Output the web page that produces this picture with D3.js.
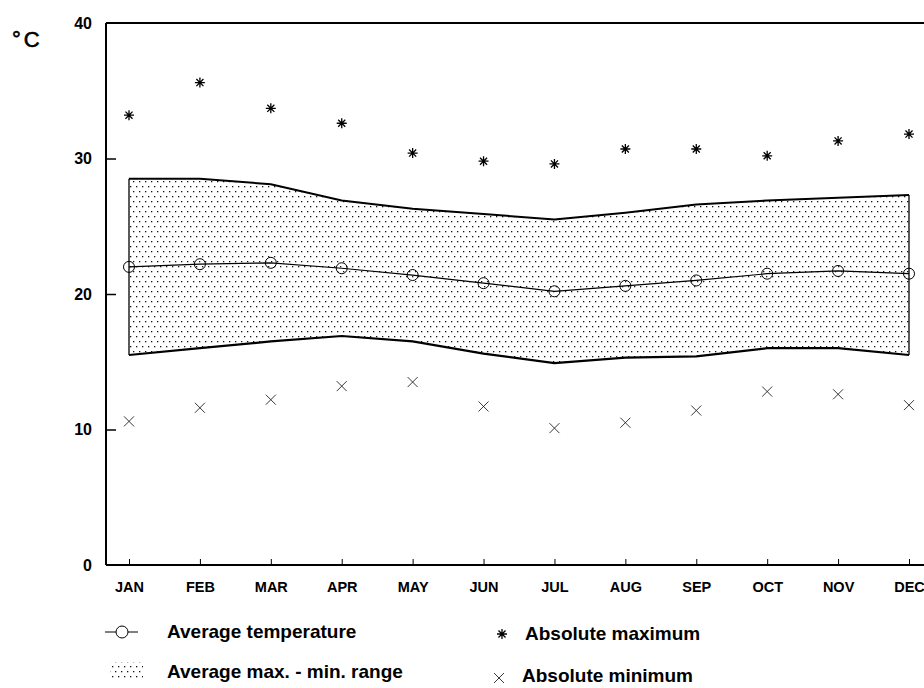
<!DOCTYPE html>
<html>
<head>
<meta charset="utf-8">
<script src="https://cdn.jsdelivr.net/npm/d3@7"></script>
<style>
  body { margin: 0; background: #fff; }
  svg { display: block; font-family: "Liberation Sans", Arial, sans-serif; }
</style>
</head>
<body>
<svg id="chart" width="924" height="688"></svg>
<script>
// monthly values (deg C)
var months = ["JAN", "FEB", "MAR", "APR", "MAY", "JUN", "JUL", "AUG", "SEP", "OCT", "NOV", "DEC"];
var avgTemp = [22.0, 22.2, 22.3, 21.9, 21.4, 20.8, 20.2, 20.6, 21.0, 21.5, 21.7, 21.5];
var avgMax = [28.5, 28.5, 28.1, 26.9, 26.3, 25.9, 25.5, 26.0, 26.6, 26.9, 27.1, 27.3];
var avgMin = [15.5, 16.0, 16.5, 16.9, 16.5, 15.6, 14.9, 15.3, 15.4, 16.0, 16.0, 15.5];
var absMax = [33.2, 35.6, 33.7, 32.6, 30.4, 29.8, 29.6, 30.7, 30.7, 30.2, 31.3, 31.8];
var absMin = [10.6, 11.6, 12.2, 13.2, 13.5, 11.7, 10.1, 10.5, 11.4, 12.8, 12.6, 11.8];
var yTicks = [0, 10, 20, 30, 40];

var svg = d3.select("#chart");

var plotLeft = 106, plotTop = 23, plotBottom = 565, plotRight = 924;

var x = d3.scalePoint().domain(months).range([129, 909]);
var y = d3.scaleLinear().domain([0, 40]).range([plotBottom, plotTop]);

// dotted fill
var defs = svg.append("defs");
var pat = defs.append("pattern")
    .attr("id", "dots")
    .attr("patternUnits", "userSpaceOnUse")
    .attr("width", 6).attr("height", 10);
pat.append("rect").attr("x", 1).attr("y", 1).attr("width", 1.3).attr("height", 1.3).attr("fill", "#111");
pat.append("rect").attr("x", 4).attr("y", 6).attr("width", 1.3).attr("height", 1.3).attr("fill", "#111");

var rows = months.map(function(m, i) {
    return { m: m, t: avgTemp[i], hi: avgMax[i], lo: avgMin[i], amax: absMax[i], amin: absMin[i] };
});

// band
var area = d3.area()
    .x(function(d) { return x(d.m); })
    .y0(function(d) { return y(d.lo); })
    .y1(function(d) { return y(d.hi); });

svg.append("path")
    .datum(rows)
    .attr("d", area)
    .attr("fill", "url(#dots)")
    .attr("stroke", "none");

var hiLine = d3.line().x(function(d) { return x(d.m); }).y(function(d) { return y(d.hi); });
var loLine = d3.line().x(function(d) { return x(d.m); }).y(function(d) { return y(d.lo); });

svg.append("path").datum(rows).attr("d", hiLine)
    .attr("fill", "none").attr("stroke", "#000").attr("stroke-width", 2);
svg.append("path").datum(rows).attr("d", loLine)
    .attr("fill", "none").attr("stroke", "#000").attr("stroke-width", 2.2);

// band end edges
[rows[0], rows[rows.length - 1]].forEach(function(d) {
    svg.append("line")
        .attr("x1", x(d.m)).attr("x2", x(d.m))
        .attr("y1", y(d.hi)).attr("y2", y(d.lo))
        .attr("stroke", "#000").attr("stroke-width", 1.3);
});

// average temperature
var tLine = d3.line().x(function(d) { return x(d.m); }).y(function(d) { return y(d.t); });
svg.append("path").datum(rows).attr("d", tLine)
    .attr("fill", "none").attr("stroke", "#000").attr("stroke-width", 1.2);

svg.selectAll("circle.avg")
    .data(rows)
    .enter()
    .append("circle")
    .attr("class", "avg")
    .attr("cx", function(d) { return x(d.m); })
    .attr("cy", function(d) { return y(d.t); })
    .attr("r", 5.5)
    .attr("fill", "none")
    .attr("stroke", "#000")
    .attr("stroke-width", 1);

// marker paths
function starPath(r) {
    var p = "";
    for (var k = 0; k < 4; k++) {
        var a = k * Math.PI / 4;
        var dx = r * Math.cos(a), dy = r * Math.sin(a);
        p += "M" + (-dx) + "," + (-dy) + "L" + dx + "," + dy;
    }
    return p;
}
function crossPath(r) {
    return "M" + (-r) + "," + (-r) + "L" + r + "," + r + "M" + (-r) + "," + r + "L" + r + "," + (-r);
}

svg.selectAll("path.amax")
    .data(rows)
    .enter()
    .append("path")
    .attr("class", "amax")
    .attr("transform", function(d) { return "translate(" + x(d.m) + "," + y(d.amax) + ")"; })
    .attr("d", starPath(5))
    .attr("stroke", "#000")
    .attr("stroke-width", 1.3);

svg.selectAll("path.amin")
    .data(rows)
    .enter()
    .append("path")
    .attr("class", "amin")
    .attr("transform", function(d) { return "translate(" + x(d.m) + "," + y(d.amin) + ")"; })
    .attr("d", crossPath(5))
    .attr("stroke", "#222")
    .attr("stroke-width", 0.9);

// frame: left axis, top border
svg.append("line").attr("x1", plotLeft).attr("x2", plotLeft).attr("y1", plotTop).attr("y2", plotBottom)
    .attr("stroke", "#000").attr("stroke-width", 2);
svg.append("line").attr("x1", plotLeft).attr("x2", plotRight).attr("y1", plotTop).attr("y2", plotTop)
    .attr("stroke", "#000").attr("stroke-width", 2);

var xAxis = svg.append("g")
    .attr("class", "myXaxis")
    .attr("transform", "translate(0," + plotBottom + ")")
    .call(d3.axisBottom(x).tickSize(-6).tickPadding(17));
xAxis.select(".domain").attr("d", "M" + plotLeft + ",0H" + plotRight).attr("stroke-width", 2);
xAxis.selectAll(".tick line").attr("stroke-width", 1);
xAxis.selectAll("text")
    .attr("font-size", 14.5).attr("font-weight", "bold").attr("fill", "#000")
    .attr("font-family", "Liberation Sans, Arial, sans-serif");

var yAxis = svg.append("g")
    .attr("class", "myYaxis")
    .attr("transform", "translate(" + plotLeft + ",0)")
    .call(d3.axisLeft(y).tickValues(yTicks).tickSize(-10).tickPadding(14).tickFormat(d3.format("d")));
yAxis.select(".domain").remove();
yAxis.selectAll(".tick line").attr("stroke-width", 1.5);
yAxis.selectAll(".tick").filter(function(d) { return d == 0 || d == 40; }).select("line").remove();
yAxis.selectAll("text")
    .attr("font-size", 16).attr("font-weight", "bold").attr("fill", "#000")
    .attr("font-family", "Liberation Sans, Arial, sans-serif");

// unit
svg.append("text")
    .attr("x", 12).attr("y", 47)
    .attr("font-size", 22)
    .attr("letter-spacing", 3)
    .style("stroke", "#000").style("stroke-width", 0.6)
    .text("\u00B0C");

// legend
var lg = svg.append("g").attr("font-size", 19).attr("font-weight", "bold");

lg.append("line").attr("x1", 105).attr("x2", 138).attr("y1", 632).attr("y2", 632)
    .attr("stroke", "#000").attr("stroke-width", 1);
lg.append("circle").attr("cx", 122).attr("cy", 632).attr("r", 6)
    .attr("fill", "#fff").attr("stroke", "#000");
lg.append("text").attr("x", 167).attr("y", 638).text("Average temperature");

lg.append("rect").attr("x", 110).attr("y", 662).attr("width", 33).attr("height", 17)
    .attr("fill", "url(#dots)");
lg.append("text").attr("x", 167).attr("y", 678).text("Average max. - min. range");

lg.append("path").attr("transform", "translate(502,634)").attr("d", starPath(5))
    .attr("stroke", "#000").attr("stroke-width", 1.3);
lg.append("text").attr("x", 525).attr("y", 640).text("Absolute maximum");

lg.append("path").attr("transform", "translate(499,678)").attr("d", crossPath(5))
    .attr("stroke", "#222").attr("stroke-width", 0.9);
lg.append("text").attr("x", 522).attr("y", 682).text("Absolute minimum");
</script>
</body>
</html>
